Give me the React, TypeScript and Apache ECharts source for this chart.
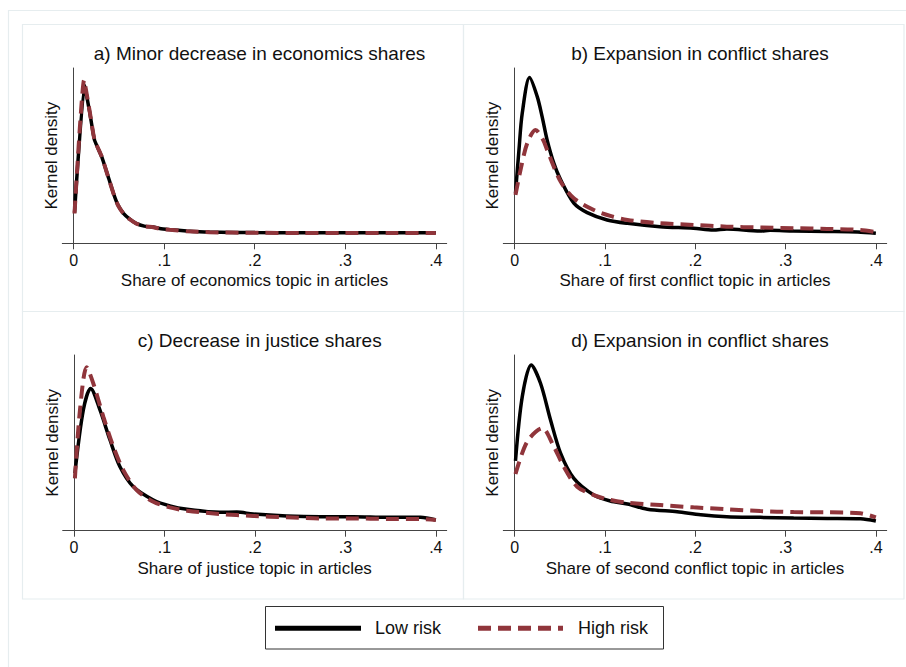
import React, { useEffect, useRef } from "react";
import * as echarts from "echarts";

// ---- data (x = share of topic, y = kernel density, arbitrary units) ----
const xTicks = [0, 0.1, 0.2, 0.3, 0.4];
const panelTitles = [
  "a) Minor decrease in economics shares",
  "b) Expansion in conflict shares",
  "c) Decrease in justice shares",
  "d) Expansion in conflict shares",
];
const xAxisNames = [
  "Share of economics topic in articles",
  "Share of first conflict topic in articles",
  "Share of justice topic in articles",
  "Share of second conflict topic in articles",
];
const seriesNames = ["Low risk", "High risk"];

// a) economics
const aLowX = [0.001, 0.012, 0.018, 0.023, 0.031, 0.037, 0.044, 0.049, 0.055, 0.062, 0.069, 0.078, 0.088, 0.095, 0.106, 0.125, 0.15, 0.2, 0.25, 0.3, 0.35, 0.4];
const aLowY = [1.75, 9.0, 7.4, 5.9, 4.94, 3.99, 2.85, 2.18, 1.71, 1.38, 1.14, 0.98, 0.93, 0.84, 0.78, 0.7, 0.64, 0.61, 0.6, 0.6, 0.6, 0.6];
const aHighX = [0.001, 0.0115, 0.018, 0.023, 0.031, 0.037, 0.044, 0.049, 0.055, 0.062, 0.069, 0.078, 0.088, 0.095, 0.106, 0.125, 0.15, 0.2, 0.25, 0.3, 0.35, 0.4];
const aHighY = [1.7, 9.3, 7.45, 5.92, 4.95, 3.98, 2.84, 2.17, 1.7, 1.37, 1.13, 0.97, 0.92, 0.83, 0.77, 0.69, 0.63, 0.6, 0.59, 0.59, 0.59, 0.59];

// b) first conflict
const bLowX = [0.001, 0.0048, 0.0085, 0.0166, 0.025, 0.0306, 0.036, 0.0435, 0.051, 0.0656, 0.0804, 0.1025, 0.125, 0.161, 0.198, 0.22, 0.235, 0.272, 0.283, 0.309, 0.346, 0.38, 0.4];
const bLowY = [2.86, 5.3, 7.43, 9.46, 8.38, 7.2, 5.9, 4.56, 3.62, 2.29, 1.75, 1.33, 1.14, 0.95, 0.86, 0.76, 0.82, 0.7, 0.74, 0.7, 0.68, 0.65, 0.57];
const bHighX = [0.001, 0.0066, 0.014, 0.0232, 0.0315, 0.036, 0.051, 0.0656, 0.0877, 0.106, 0.125, 0.161, 0.198, 0.235, 0.272, 0.309, 0.346, 0.383, 0.4];
const bHighY = [2.76, 4.19, 5.71, 6.47, 5.9, 5.33, 3.52, 2.57, 1.9, 1.56, 1.33, 1.14, 1.05, 0.95, 0.9, 0.86, 0.82, 0.76, 0.64];

// c) justice
const cLowX = [0.001, 0.0103, 0.0184, 0.0287, 0.0398, 0.0508, 0.0656, 0.0877, 0.106, 0.125, 0.161, 0.18, 0.198, 0.235, 0.272, 0.309, 0.346, 0.383, 0.4];
const cLowY = [3.27, 6.87, 8.1, 6.87, 5.16, 3.64, 2.5, 1.75, 1.41, 1.22, 1.05, 1.06, 0.95, 0.84, 0.8, 0.8, 0.76, 0.76, 0.61];
const cHighX = [0.001, 0.0066, 0.014, 0.0213, 0.0324, 0.0435, 0.0545, 0.0693, 0.0877, 0.106, 0.125, 0.161, 0.198, 0.235, 0.272, 0.309, 0.346, 0.383, 0.4];
const cHighY = [2.98, 6.87, 9.3, 8.39, 6.49, 4.78, 3.45, 2.31, 1.65, 1.33, 1.14, 0.95, 0.84, 0.76, 0.7, 0.7, 0.67, 0.67, 0.61];

// d) second conflict
const dLowX = [0.001, 0.0085, 0.0184, 0.0287, 0.0398, 0.051, 0.0656, 0.0877, 0.106, 0.125, 0.147, 0.18, 0.206, 0.235, 0.272, 0.309, 0.346, 0.383, 0.4];
const dLowY = [3.98, 7.63, 9.43, 8.39, 6.3, 4.4, 2.98, 2.03, 1.69, 1.52, 1.22, 1.08, 0.91, 0.8, 0.76, 0.72, 0.7, 0.68, 0.55];
const dHighX = [0.001, 0.014, 0.0306, 0.0435, 0.0545, 0.0693, 0.0877, 0.106, 0.125, 0.161, 0.198, 0.235, 0.272, 0.309, 0.346, 0.383, 0.4];
const dHighY = [3.23, 5.07, 5.83, 4.78, 3.64, 2.5, 2.03, 1.75, 1.59, 1.46, 1.33, 1.22, 1.12, 1.06, 1.05, 0.99, 0.76];

const lowXs = [aLowX, bLowX, cLowX, dLowX];
const lowYs = [aLowY, bLowY, cLowY, dLowY];
const highXs = [aHighX, bHighX, cHighX, dHighX];
const highYs = [aHighY, bHighY, cHighY, dHighY];

const FONT = "Liberation Sans, Arial, Helvetica, sans-serif";
const RED = "#90353B";
const BORDER = "#E6EDEF";
const AXIS = "#444";

const zip = (xs: number[], ys: number[]) => xs.map((x, i) => [x, ys[i]]);
const fmt = (v: number) => (v === 0 ? "0" : String(Math.round(v * 10) / 10).replace(/^0/, ""));

export default function App() {
  const ref = useRef<HTMLDivElement>(null);
  useEffect(() => {
    if (!ref.current) return;
    const chart = echarts.init(ref.current, null, { renderer: "svg" });

    const grids = [
      { left: 62.3, top: 68, width: 384.4, height: 175.3 },
      { left: 503.3, top: 68, width: 383.4, height: 175.3 },
      { left: 62.7, top: 355, width: 384.0, height: 175.7 },
      { left: 503.3, top: 355, width: 383.4, height: 175.7 },
    ];
    const titleTops = [39, 39, 326, 326];

    const option: any = {
      animation: false,
      backgroundColor: "#fff",
      textStyle: { fontFamily: FONT },
      title: grids.map((g, i) => ({
        text: panelTitles[i],
        left: g.left + g.width / 2,
        top: titleTops[i],
        textAlign: "center",
        textStyle: { fontFamily: FONT, fontSize: 19, fontWeight: "normal", color: "#111" },
      })),
      grid: grids.map((g) => ({ ...g, containLabel: false })),
      xAxis: grids.map((g, i) => ({
        type: "value",
        gridIndex: i,
        min: -0.0125,
        max: 0.412,
        name: xAxisNames[i],
        nameLocation: "middle",
        nameGap: 29,
        nameTextStyle: { fontFamily: FONT, fontSize: 17, color: "#111" },
        axisLine: { show: true, lineStyle: { color: AXIS, width: 1 } },
        axisTick: { show: true, length: 6, customValues: xTicks, lineStyle: { color: AXIS } },
        axisLabel: { customValues: xTicks, formatter: fmt, margin: 9, fontFamily: FONT, fontSize: 16, color: "#111" },
        splitLine: { show: false },
      })),
      yAxis: grids.map((g, i) => ({
        type: "value",
        gridIndex: i,
        min: 0,
        max: 10,
        name: "Kernel density",
        nameLocation: "middle",
        nameGap: 2,
        nameTextStyle: { fontFamily: FONT, fontSize: 17, color: "#111" },
        axisLine: { show: true, lineStyle: { color: AXIS, width: 1 } },
        axisTick: { show: false },
        axisLabel: { show: false },
        splitLine: { show: false },
      })),
      series: [0, 1, 2, 3].flatMap((i) => [
        {
          type: "line",
          name: seriesNames[0],
          xAxisIndex: i,
          yAxisIndex: i,
          data: zip(lowXs[i], lowYs[i]),
          showSymbol: false,
          symbol: "none",
          smooth: i === 0 ? 0.15 : 0.3,
          lineStyle: { color: "#000", width: 3.5 },
          z: 2,
        },
        {
          type: "line",
          name: seriesNames[1],
          xAxisIndex: i,
          yAxisIndex: i,
          data: zip(highXs[i], highYs[i]),
          showSymbol: false,
          symbol: "none",
          smooth: i === 0 ? 0.15 : 0.3,
          lineStyle: { color: RED, width: 4, type: [13, 7], cap: "butt" },
          z: 3,
        },
      ]),
      graphic: [
        { type: "rect", silent: true, z: -10, shape: { x: 8.5, y: 10.5, width: 1000, height: 1000 }, style: { fill: "none", stroke: BORDER, lineWidth: 1.2 } },
        { type: "rect", silent: true, z: -10, shape: { x: 22.5, y: 24.5, width: 441, height: 287 }, style: { fill: "none", stroke: BORDER, lineWidth: 1.2 } },
        { type: "rect", silent: true, z: -10, shape: { x: 463.5, y: 24.5, width: 440.5, height: 287 }, style: { fill: "none", stroke: BORDER, lineWidth: 1.2 } },
        { type: "rect", silent: true, z: -10, shape: { x: 22.5, y: 311.5, width: 441, height: 287.5 }, style: { fill: "none", stroke: BORDER, lineWidth: 1.2 } },
        { type: "rect", silent: true, z: -10, shape: { x: 463.5, y: 311.5, width: 440.5, height: 287.5 }, style: { fill: "none", stroke: BORDER, lineWidth: 1.2 } },
        // legend
        { type: "rect", silent: true, shape: { x: 265.5, y: 606.5, width: 398, height: 42.5 }, style: { fill: "#fff", stroke: "#333", lineWidth: 1 } },
        { type: "line", silent: true, shape: { x1: 275, y1: 628.3, x2: 361, y2: 628.3 }, style: { stroke: "#000", lineWidth: 5 } },
        { type: "text", silent: true, x: 375, y: 628.3, style: { text: seriesNames[0], fontFamily: FONT, fontSize: 18, fill: "#111", textVerticalAlign: "middle", verticalAlign: "middle" } },
        { type: "line", silent: true, shape: { x1: 478, y1: 628.3, x2: 563, y2: 628.3 }, style: { stroke: RED, lineWidth: 5, lineDash: [13, 7] } },
        { type: "text", silent: true, x: 578, y: 628.3, style: { text: seriesNames[1], fontFamily: FONT, fontSize: 18, fill: "#111", textVerticalAlign: "middle", verticalAlign: "middle" } },
      ],
    };
    chart.setOption(option);
    return () => chart.dispose();
  }, []);
  return (
    <div
      ref={ref}
      style={{ position: "fixed", left: 0, top: 0, width: 906, height: 667, background: "#fff" }}
    />
  );
}
